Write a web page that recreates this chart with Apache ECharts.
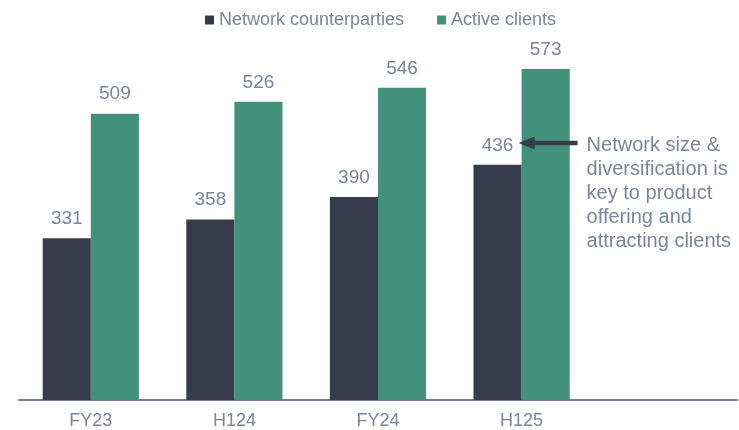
<!DOCTYPE html>
<html>
<head>
<meta charset="utf-8">
<script src="https://cdn.jsdelivr.net/npm/echarts@6/dist/echarts.min.js"></script>
<style>
  html, body { margin: 0; padding: 0; background: #fff; }
  #chart { width: 739px; height: 430px; }
</style>
</head>
<body>
<div id="chart"></div>
<script>
  // data (last category left empty for the note)
  const categories = ['FY23', 'H124', 'FY24', 'H125', ''];
  const counterparties = [331, 358, 390, 436, null];
  const activeClients = [509, 526, 546, 573, null];
  const noteLines = ['Network size &', 'diversification is', 'key to product', 'offering and', 'attracting clients'];

  const textColor = '#7a849b';
  const font = '"Liberation Sans", Arial, sans-serif';

  const chart = echarts.init(document.getElementById('chart'));
  chart.setOption({
    animation: false,
    textStyle: { fontFamily: font },
    legend: {
      top: 6,
      left: 200,
      itemWidth: 9,
      itemHeight: 9,
      itemGap: 33,
      icon: 'rect',
      textStyle: { color: textColor, fontSize: 18, fontFamily: font },
      data: ['Network counterparties', 'Active clients']
    },
    grid: { left: 19, right: 2, top: 50, bottom: 29 },
    xAxis: {
      type: 'category',
      data: categories,
      axisTick: { show: false },
      axisLine: { lineStyle: { color: '#747d93', width: 2 } },
      axisLabel: { color: textColor, fontSize: 18, margin: 12, fontFamily: font }
    },
    yAxis: {
      type: 'value',
      min: 100,
      max: 600,
      show: false,
      splitLine: { show: false }
    },
    series: [
      {
        name: 'Network counterparties',
        type: 'bar',
        data: counterparties,
        barGap: 0,
        barCategoryGap: '33%',
        itemStyle: { color: '#363c4b' },
        label: { show: true, position: 'top', distance: 10, color: textColor, fontSize: 19, fontFamily: font }
      },
      {
        name: 'Active clients',
        type: 'bar',
        data: activeClients,
        itemStyle: { color: '#42927b' },
        label: { show: true, position: 'top', distance: 10, color: textColor, fontSize: 19, fontFamily: font }
      }
    ]
  });

  // arrow + note next to the H125 counterparties label
  const p = chart.convertToPixel({ seriesIndex: 0 }, [3, counterparties[3]]);
  const ay = Math.round(p[1] - 22);
  const tipX = p[0] - 3;
  chart.setOption({
    graphic: [
      {
        type: 'line',
        z: 100,
        shape: { x1: tipX + 12, y1: ay, x2: tipX + 59, y2: ay },
        style: { stroke: '#363c4b', lineWidth: 4.5 }
      },
      {
        type: 'polygon',
        z: 100,
        shape: { points: [[tipX, ay], [tipX + 16, ay - 6.5], [tipX + 16, ay + 6.5]] },
        style: { fill: '#363c4b' }
      },
      {
        type: 'text',
        z: 100,
        left: p[0] + 65,
        top: ay - 10,
        style: {
          text: noteLines.join('\n'),
          fill: textColor,
          font: '20px ' + font,
          lineHeight: 24
        }
      }
    ]
  });
</script>
</body>
</html>
